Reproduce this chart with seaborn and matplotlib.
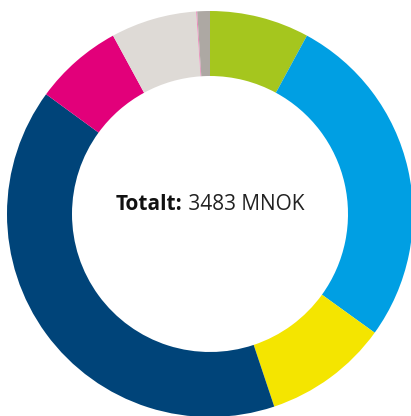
import matplotlib
matplotlib.use("Agg")
import matplotlib.pyplot as plt
import seaborn as sns

# segment values in MNOK, clockwise from 12 o'clock
segments = ["grønn", "blå", "gul", "mørkeblå", "magenta", "lysgrå", "rosa", "grå"]
values = [276, 941, 346, 1399, 245, 238, 3, 35]
colors = ["#A5C61E", "#009FE3", "#F4E500", "#004479", "#E2007A", "#DEDAD6", "#E98CBA", "#ADA8A3"]
total_label = "3483 MNOK"

sns.set_theme(style="white")
plt.rcParams['font.family'] = ['Open Sans', 'DejaVu Sans']

W, H = 411, 416
fig = plt.figure(figsize=(W / 100, H / 100), dpi=100)
# centre at (210, 214) px from top-left, outer radius 203 px
cx, cy, R = 210, 214, 203
ax = fig.add_axes([(cx - R) / W, (H - cy - R) / H, 2 * R / W, 2 * R / H])
ax.set_xlim(-1, 1)
ax.set_ylim(-1, 1)
ax.axis("off")

ax.pie(values, colors=sns.color_palette(colors), startangle=90, counterclock=False,
       radius=1, wedgeprops=dict(width=1 - 138 / 203, linewidth=0), frame=True)
ax.set_xlim(-1, 1)
ax.set_ylim(-1, 1)
ax.axis("off")

# centre text: bold "Totalt:" followed by the amount
fs = 15
t1 = fig.text(0, 0, "Totalt:", fontsize=fs, fontweight="bold", color="#111111")
t2 = fig.text(0, 0, " " + total_label, fontsize=fs, color="#222222")
fig.canvas.draw()
r = fig.canvas.get_renderer()
w1 = t1.get_window_extent(r).width
w2 = t2.get_window_extent(r).width
x0 = cx - (w1 + w2) / 2
base_y = H - 210
t1.set_position((x0 / W, base_y / H))
t2.set_position(((x0 + w1) / W, base_y / H))
t1.set_va("baseline")
t2.set_va("baseline")

fig.savefig("out.png", dpi=100, facecolor="white")
